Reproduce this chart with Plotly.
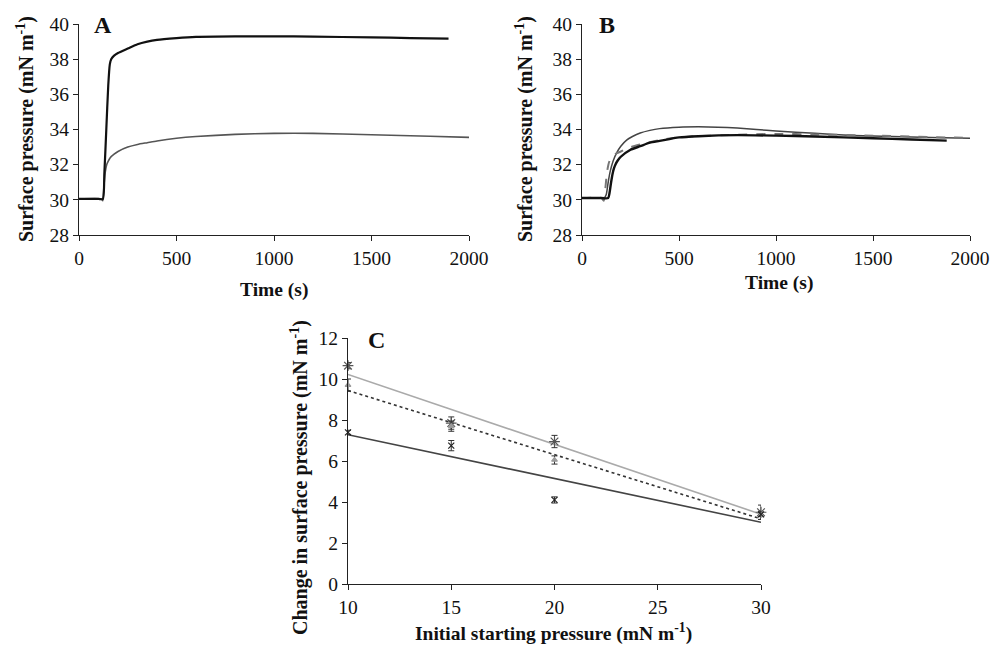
import numpy as np
import plotly.graph_objects as go

OFF = 8  # page body margin
W, H = 1003 - OFF, 648 - OFF
SERIF = "Liberation Serif, Times New Roman, serif"

# ---------------- Panel A data ----------------
a_black_t = [0, 100, 122, 130, 140, 150, 158, 165, 180, 200, 250, 300, 350, 400, 500, 600, 800, 1000, 1200, 1500, 1700, 1895]
a_black_v = [30.05, 30.05, 30.05, 31.5, 34.0, 36.5, 37.7, 38.0, 38.2, 38.35, 38.6, 38.85, 39.0, 39.1, 39.2, 39.27, 39.3, 39.3, 39.28, 39.24, 39.2, 39.17]
a_grey_t = [0, 115, 122, 128, 135, 142, 150, 160, 180, 200, 250, 300, 350, 400, 500, 600, 800, 1000, 1200, 1500, 1800, 2000]
a_grey_v = [30.05, 30.05, 29.95, 30.8, 31.6, 32.0, 32.2, 32.4, 32.6, 32.75, 33.0, 33.15, 33.25, 33.35, 33.5, 33.6, 33.72, 33.78, 33.78, 33.7, 33.62, 33.55]

# ---------------- Panel B data ----------------
b_black_t = [0, 100, 135, 142, 150, 158, 165, 172, 185, 200, 250, 300, 350, 400, 500, 600, 800, 1000, 1200, 1500, 1700, 1880]
b_black_v = [30.1, 30.1, 30.1, 30.4, 31.0, 31.5, 31.8, 32.0, 32.25, 32.45, 32.85, 33.05, 33.25, 33.35, 33.55, 33.62, 33.68, 33.65, 33.6, 33.5, 33.43, 33.37]
b_thin_t = [0, 100, 115, 125, 135, 145, 160, 180, 200, 230, 260, 300, 350, 400, 500, 600, 700, 800, 900, 1000, 1200, 1400, 1600, 1800, 2000]
b_thin_v = [30.1, 30.1, 30.1, 30.3, 31.0, 31.6, 32.2, 32.7, 33.05, 33.4, 33.6, 33.8, 33.95, 34.05, 34.13, 34.15, 34.13, 34.08, 34.0, 33.92, 33.78, 33.66, 33.6, 33.55, 33.5]
b_dash_t = [0, 100, 112, 120, 128, 136, 145, 160, 180, 200, 250, 300, 400, 500, 600, 800, 1000, 1200, 1500, 1800, 2000]
b_dash_v = [30.1, 30.1, 29.95, 30.6, 31.5, 32.0, 32.3, 32.5, 32.65, 32.75, 33.0, 33.15, 33.4, 33.55, 33.62, 33.7, 33.75, 33.72, 33.65, 33.57, 33.52]

# ---------------- Panel C data ----------------
c_x = [10, 15, 20, 30]
c_s1 = [10.65, 7.85, 6.95, 3.5]
c_s1_err = [0.15, 0.3, 0.3, 0.35]
c_s2 = [9.7, 7.7, 6.05, 3.35]
c_s2_err = [0.3, 0.25, 0.2, 0.2]
c_s3 = [7.4, 6.75, 4.1, 3.4]
c_s3_err = [0.1, 0.25, 0.15, 0.1]

x_ticks_ab = [0, 500, 1000, 1500, 2000]
y_ticks_ab = [28, 30, 32, 34, 36, 38, 40]
x_ticks_c = [10, 15, 20, 25, 30]
y_ticks_c = [0, 2, 4, 6, 8, 10, 12]

fig = go.Figure()

# Panel A
fig.add_trace(go.Scatter(x=a_grey_t, y=a_grey_v, mode="lines", line=dict(color="#555555", width=1.6, shape="spline", smoothing=0.6), xaxis="x", yaxis="y"))
fig.add_trace(go.Scatter(x=a_black_t, y=a_black_v, mode="lines", line=dict(color="#111111", width=2.2, shape="spline", smoothing=0.6), xaxis="x", yaxis="y"))

# Panel B
fig.add_trace(go.Scatter(x=b_thin_t, y=b_thin_v, mode="lines", line=dict(color="#444444", width=1.5, shape="spline", smoothing=0.6), xaxis="x2", yaxis="y2"))
fig.add_trace(go.Scatter(x=b_dash_t, y=b_dash_v, mode="lines", line=dict(color="#777777", width=2, dash="dash", shape="spline", smoothing=0.6), xaxis="x2", yaxis="y2"))
fig.add_trace(go.Scatter(x=b_black_t, y=b_black_v, mode="lines", line=dict(color="#111111", width=2.4, shape="spline", smoothing=0.6), xaxis="x2", yaxis="y2"))

# Panel C trendlines (linear least-squares fits of the data)
xfit = np.array([min(c_x), max(c_x)], dtype=float)
for ys, col, dash, wd in [(c_s1, "#aaaaaa", "solid", 1.6), (c_s2, "#333333", "dot", 1.6), (c_s3, "#444444", "solid", 1.6)]:
    k, b = np.polyfit(c_x, ys, 1)
    fig.add_trace(go.Scatter(x=xfit, y=k * xfit + b, mode="lines", line=dict(color=col, width=wd, dash=dash), xaxis="x3", yaxis="y3"))

# Panel C points with error bars
for ys, err, sym, col, sz in [(c_s1, c_s1_err, "asterisk-open", "#555555", 9),
                             (c_s2, c_s2_err, "triangle-up", "#999999", 5),
                             (c_s3, c_s3_err, "x-thin-open", "#222222", 6)]:
    fig.add_trace(go.Scatter(x=c_x, y=ys, mode="markers", cliponaxis=False,
                             marker=dict(symbol=sym, size=sz, color=col, line=dict(color=col, width=1.2)),
                             error_y=dict(type="data", array=err, visible=True, color="#333333", thickness=1, width=3),
                             xaxis="x3", yaxis="y3"))

def px_x(p):
    return (p - OFF) / W

def px_y(p):
    return 1 - (p - OFF) / H

axis_common = dict(showgrid=False, zeroline=False, showline=True, linecolor="#222222", linewidth=1.2,
                   ticks="outside", ticklen=5, tickcolor="#222222", tickwidth=1.2, automargin=False,
                   tickfont=dict(family=SERIF, size=19.5, color="#111111"))

fig.update_layout(
    template="none",
    width=W, height=H,
    margin=dict(l=0, r=0, t=0, b=0, pad=0),
    paper_bgcolor="white", plot_bgcolor="white",
    showlegend=False,
    xaxis=dict(domain=[px_x(79), px_x(469)], range=[0, 2000], tickvals=x_ticks_ab, anchor="y", **axis_common),
    yaxis=dict(domain=[px_y(235), px_y(24)], range=[28, 40], tickvals=y_ticks_ab, anchor="x", **axis_common),
    xaxis2=dict(domain=[px_x(582), px_x(970)], range=[0, 2000], tickvals=x_ticks_ab, anchor="y2", **axis_common),
    yaxis2=dict(domain=[px_y(235), px_y(24)], range=[28, 40], tickvals=y_ticks_ab, anchor="x2", **axis_common),
    xaxis3=dict(domain=[px_x(348), px_x(761)], range=[10, 30], tickvals=x_ticks_c, anchor="y3", **axis_common),
    yaxis3=dict(domain=[px_y(584), px_y(338)], range=[0, 12], tickvals=y_ticks_c, anchor="x3", **axis_common),
)

vfont = dict(family=SERIF, size=20, color="#111111")
hfont = dict(family=SERIF, size=19.5, color="#111111")
letter_font = dict(family=SERIF, size=24, color="#111111")

def ann(text, x, y, font, angle=0):
    fig.add_annotation(text=text, x=px_x(x), y=px_y(y), xref="paper", yref="paper",
                       showarrow=False, font=font, textangle=angle, xanchor="center", yanchor="middle")

ylab_ab = "<b>Surface pressure (mN m<sup>-1</sup>)</b>"
ann(ylab_ab, 25, 129, vfont, -90)
ann(ylab_ab, 524, 129, vfont, -90)
ann("<b>Time (s)</b>", 274, 290, hfont)
ann("<b>Time (s)</b>", 779, 283, hfont)
ann("<b>Change in surface pressure (mN m<sup>-1</sup>)</b>", 299, 478, vfont, -90)
ann("<b>Initial starting pressure (mN m<sup>-1</sup>)</b>", 553, 632, hfont)
ann("<b>A</b>", 103, 25, letter_font)
ann("<b>B</b>", 607, 25, letter_font)
ann("<b>C</b>", 376, 340, letter_font)

fig.write_html("out.html")
